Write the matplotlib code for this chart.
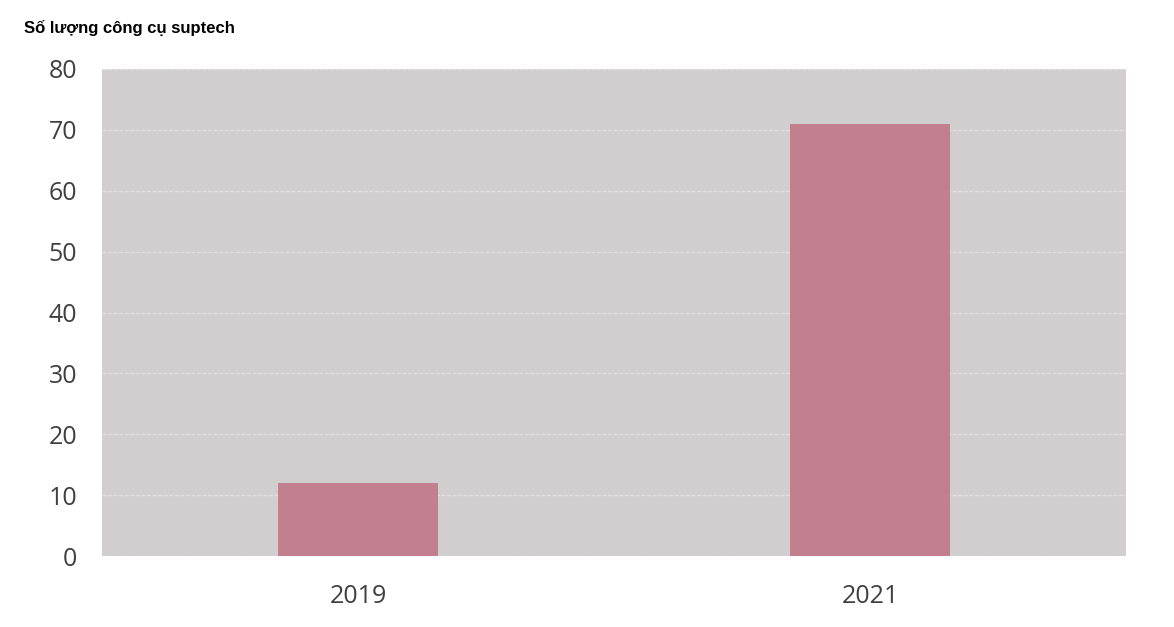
import matplotlib
matplotlib.use("Agg")
import matplotlib.pyplot as plt

# Chart data
years = ["2019", "2021"]
tool_counts = [12, 71]
y_ticks = [0, 10, 20, 30, 40, 50, 60, 70, 80]
title = "Số lượng công cụ suptech"

fig = plt.figure(figsize=(11.74, 6.27), dpi=100)
ax = fig.add_axes([102 / 1174, 1 - 556 / 627, 1024 / 1174, 487 / 627])

ax.set_facecolor("#d0cecf")
x = range(len(years))
ax.bar(x, tool_counts, width=0.3125, color="#c27f8f", zorder=3)

ax.set_xlim(-0.5, len(years) - 0.5)
ax.set_ylim(0, 80)
ax.set_yticks(y_ticks)
ax.set_xticks(list(x))
ax.set_xticklabels(years)

ax.grid(axis="y", color="#e0dedf", linewidth=1, linestyle=(0, (3, 1)), zorder=1)
for s in ax.spines.values():
    s.set_visible(False)
ax.tick_params(length=0, labelsize=18, labelcolor="#404040")
ax.tick_params(axis="y", pad=18)
ax.tick_params(axis="x", pad=20)
for lbl in ax.get_xticklabels() + ax.get_yticklabels():
    lbl.set_family("Open Sans")

fig.text(24 / 1174, 1 - 28 / 627, title, fontsize=12, fontweight="bold",
         family="Liberation Sans", va="center", ha="left", color="black")

fig.savefig("out.png", dpi=100)
